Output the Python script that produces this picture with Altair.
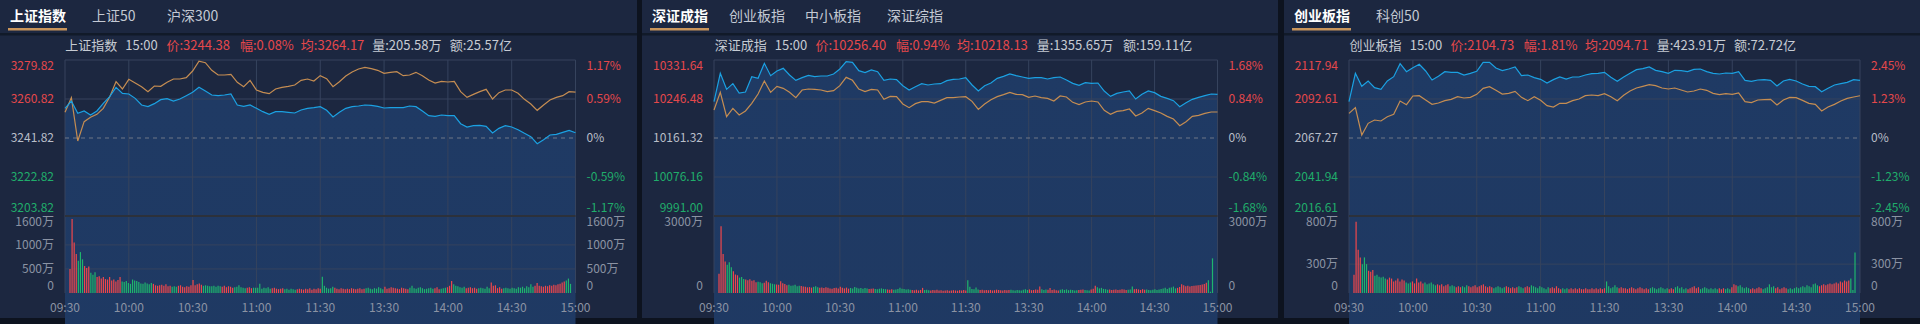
import altair as alt
import pandas as pd

# ---------------- data ----------------
SAMPLE_MINUTES = list(range(0, 241, 3))      # 09:30 .. 11:30 | 13:00 .. 15:00 (trading minutes)
VOL_MINUTES = list(range(0, 241))
TIME_TICKS = [0, 30, 60, 90, 120, 150, 180, 210, 240]
TIME_LABELS = ["09:30", "10:00", "10:30", "11:00", "11:30", "13:30", "14:00", "14:30", "15:00"]

# ---- 上证指数 ----
SH_TABS = ["上证指数", "上证50", "沪深300"]
SH_HEADER = ["上证指数", "15:00", "价:3244.38", "幅:0.08%", "均:3264.17", "量:205.58万", "额:25.57亿"]
SH_PRICE_TICKS = [3279.82, 3260.82, 3241.82, 3222.82, 3203.82]
SH_PCT_TICKS = ["1.17%", "0.59%", "0%", "-0.59%", "-1.17%"]
SH_VOL_TICKS = [1600, 1000, 500, 0]
SH_VOL_LABELS = ["1600万", "1000万", "500万", "0"]
SH_PRICE = [
    3256.27, 3259.84, 3253.84, 3254.97, 3253.02, 3254.97, 3258.71, 3261.96, 3266.50, 3263.58,
    3263.26, 3261.14, 3257.90, 3257.09, 3258.55, 3260.50, 3260.98, 3259.84, 3260.82, 3262.44,
    3264.07, 3266.50, 3264.72, 3262.77, 3262.44, 3262.77, 3263.26, 3257.90, 3257.25, 3257.90,
    3256.27, 3254.65, 3253.35, 3254.65, 3254.65, 3254.32, 3254.00, 3255.46, 3256.27, 3256.60,
    3257.09,
    3255.30, 3252.05, 3254.32, 3256.27, 3257.09, 3257.41, 3257.90, 3257.73, 3257.25, 3256.44,
    3256.60, 3256.60, 3256.60, 3257.41, 3257.09, 3254.97, 3252.70, 3252.37, 3253.02, 3252.70,
    3252.70, 3248.80, 3247.18, 3247.83, 3247.99, 3247.50, 3244.25, 3246.53, 3247.83, 3247.18,
    3245.88, 3244.09, 3242.47, 3239.06, 3241.01, 3243.28, 3243.60, 3244.58, 3245.55, 3244.38,
]
SH_AVG = [
    3254.32, 3261.47, 3240.36, 3249.78, 3251.89, 3253.35, 3256.27, 3261.79, 3269.26, 3265.69,
    3270.40, 3268.61, 3266.83, 3264.39, 3267.15, 3266.99, 3268.94, 3270.56, 3270.56, 3271.21,
    3274.46, 3279.20, 3278.52, 3274.79, 3272.51, 3272.51, 3272.84, 3268.94, 3266.83, 3269.91,
    3265.20, 3264.07, 3263.42, 3265.69, 3266.50, 3266.99, 3267.64, 3269.91, 3270.56, 3269.59,
    3272.19,
    3270.73, 3266.83, 3269.26, 3272.02, 3273.97, 3275.43, 3276.25, 3275.60, 3274.79, 3273.32,
    3273.81, 3274.13, 3272.19, 3272.51, 3273.81, 3272.19, 3270.07, 3268.61, 3269.43, 3269.10,
    3269.43, 3264.39, 3261.63, 3263.09, 3264.39, 3265.53, 3260.82, 3263.90, 3265.20, 3265.20,
    3263.58, 3260.66, 3258.38, 3255.30, 3257.90, 3260.33, 3261.63, 3262.44, 3264.39, 3264.17,
]
SH_VOL = [
    500, 1540, 1050, 810, 670, 850, 700, 560, 520, 550,
    420, 380, 430, 330, 350, 300, 330, 290, 280, 330,
    260, 280, 240, 270, 330, 240, 230, 250, 210, 190,
    280, 260, 250, 230, 200, 190, 220, 200, 180, 210,
    190, 160, 150, 160, 170, 150, 180, 140, 150, 130,
    140, 130, 150, 160, 130, 120, 140, 130, 160, 270,
    160, 180, 200, 170, 150, 160, 150, 140, 140, 150,
    130, 150, 140, 130, 150, 120, 140, 130, 110, 120,
    130, 160, 120, 110, 100, 110, 120, 100, 110, 110,
    110, 190, 90, 110, 100, 120, 90, 100, 110, 90,
    80, 90, 100, 80, 90, 70, 90, 80, 70, 80,
    90, 80, 70, 90, 80, 100, 70, 90, 80, 100,
    90, 340, 150, 110, 90, 100, 130, 110, 90, 80,
    100, 90, 80, 90, 80, 100, 90, 80, 90, 100,
    80, 90, 100, 110, 90, 80, 100, 90, 120, 100,
    80, 130, 90, 100, 120, 110, 100, 90, 80, 110,
    100, 90, 80, 110, 150, 100, 90, 110, 120, 100,
    80, 90, 100, 110, 90, 100, 120, 80, 90, 100,
    110, 120, 150, 250, 180, 150, 140, 120, 110, 130,
    100, 110, 120, 100, 110, 90, 100, 110, 100, 90,
    130, 100, 220, 150, 160, 100, 120, 90, 100, 110,
    100, 90, 110, 100, 90, 120, 110, 130, 100, 140,
    120, 180, 130, 150, 210, 150, 140, 130, 150, 140,
    160, 150, 170, 160, 180, 190, 220, 240, 260, 300,
    190,
]

# ---- 深证成指 ----
SZ_TABS = ["深证成指", "创业板指", "中小板指", "深证综指"]
SZ_HEADER = ["深证成指", "15:00", "价:10256.40", "幅:0.94%", "均:10218.13", "量:1355.65万", "额:159.11亿"]
SZ_PRICE_TICKS = [10331.64, 10246.48, 10161.32, 10076.16, 9991.00]
SZ_PCT_TICKS = ["1.68%", "0.84%", "0%", "-0.84%", "-1.68%"]
SZ_VOL_TICKS = [3000, 0]
SZ_VOL_LABELS = ["3000万", "0"]
SZ_PRICE = [
    10240.65, 10302.52, 10267.59, 10279.96, 10259.58, 10261.76, 10295.25, 10291.61, 10324.36, 10297.43,
    10307.62, 10313.44, 10298.89, 10287.24, 10293.06, 10298.16, 10295.25, 10296.70, 10296.70, 10301.07,
    10311.99, 10328.00, 10326.55, 10308.35, 10303.98, 10309.80, 10306.16, 10287.24, 10290.15, 10288.70,
    10275.59, 10266.13, 10273.41, 10279.96, 10277.05, 10279.23, 10279.96, 10286.51, 10289.42, 10290.15,
    10293.06,
    10277.05, 10263.95, 10275.59, 10281.42, 10291.61, 10295.97, 10301.07, 10297.43, 10294.52, 10291.61,
    10293.06, 10293.06, 10290.15, 10293.06, 10294.52, 10287.97, 10280.69, 10276.32, 10282.14, 10280.69,
    10281.42, 10263.95, 10252.30, 10258.85, 10261.76, 10263.95, 10246.48, 10256.67, 10263.95, 10260.31,
    10252.30, 10247.93, 10242.84, 10229.74, 10238.47, 10245.75, 10250.12, 10253.76, 10257.40, 10256.40,
]
SZ_AVG = [
    10222.46, 10261.04, 10207.90, 10226.10, 10211.54, 10220.27, 10237.01, 10257.40, 10285.78, 10261.04,
    10274.14, 10269.77, 10261.04, 10249.39, 10266.13, 10268.31, 10267.59, 10266.13, 10262.49, 10264.67,
    10275.59, 10293.79, 10287.24, 10268.31, 10262.49, 10267.59, 10266.13, 10245.75, 10252.30, 10251.57,
    10235.56, 10227.55, 10236.29, 10240.65, 10240.65, 10237.74, 10243.57, 10249.39, 10249.39, 10250.84,
    10251.57,
    10241.38, 10223.91, 10235.56, 10245.02, 10251.57, 10255.94, 10261.04, 10256.67, 10255.94, 10250.12,
    10253.03, 10249.39, 10247.93, 10242.11, 10253.03, 10250.84, 10239.20, 10234.10, 10239.93, 10242.11,
    10239.93, 10221.73, 10212.99, 10219.54, 10221.00, 10224.64, 10209.35, 10215.91, 10226.10, 10221.00,
    10215.91, 10208.63, 10202.80, 10188.25, 10196.98, 10208.63, 10210.81, 10215.18, 10218.09, 10218.13,
]
SZ_VOL = [
    750, 2600, 1520, 1230, 1100, 1200, 1000, 850, 720, 690,
    600, 620, 550, 530, 500, 540, 480, 500, 420, 440,
    420, 380, 400, 480, 420, 380, 360, 340, 330, 320,
    460, 380, 350, 300, 320, 280, 290, 320, 260, 280,
    270, 250, 240, 220, 230, 210, 240, 260, 220, 200,
    210, 190, 220, 200, 180, 170, 190, 200, 180, 240,
    200, 180, 210, 170, 190, 180, 230, 200, 180, 190,
    170, 190, 180, 160, 170, 180, 160, 150, 170, 180,
    160, 150, 140, 130, 150, 130, 140, 160, 200, 170,
    160, 140, 150, 130, 120, 110, 130, 100, 120, 200,
    120, 130, 110, 100, 120, 110, 130, 100, 110, 90,
    100, 110, 90, 100, 110, 100, 90, 110, 100, 120,
    100, 500, 240, 160, 150, 210, 140, 120, 130, 110,
    120, 110, 120, 100, 110, 130, 120, 110, 100, 120,
    110, 120, 130, 110, 100, 120, 110, 100, 130, 150,
    120, 140, 110, 120, 140, 130, 250, 150, 120, 140,
    130, 190, 120, 140, 110, 100, 130, 150, 120, 140,
    110, 130, 120, 100, 110, 120, 130, 140, 120, 110,
    100, 140, 170, 280, 220, 180, 200, 160, 150, 130,
    140, 120, 130, 140, 120, 130, 150, 140, 120, 130,
    140, 250, 150, 160, 140, 120, 150, 130, 140, 120,
    110, 130, 150, 120, 140, 160, 180, 200, 160, 200,
    210, 250, 180, 200, 230, 340, 300, 260, 280, 250,
    270, 280, 290, 300, 310, 330, 350, 400, 500, 50,
    1350,
]

# ---- 创业板指 ----
CY_TABS = ["创业板指", "科创50"]
CY_HEADER = ["创业板指", "15:00", "价:2104.73", "幅:1.81%", "均:2094.71", "量:423.91万", "额:72.72亿"]
CY_PRICE_TICKS = [2117.94, 2092.61, 2067.27, 2041.94, 2016.61]
CY_PCT_TICKS = ["2.45%", "1.23%", "0%", "-1.23%", "-2.45%"]
CY_VOL_TICKS = [800, 300, 0]
CY_VOL_LABELS = ["800万", "300万", "0"]
CY_PRICE = [
    2090.87, 2109.28, 2100.84, 2104.30, 2099.97, 2098.89, 2104.30, 2107.11, 2115.56, 2110.36,
    2112.96, 2115.20, 2110.80, 2104.95, 2107.33, 2110.36, 2109.93, 2109.93, 2108.20, 2109.28,
    2110.58, 2116.43, 2116.43, 2112.74, 2111.01, 2112.10, 2113.39, 2107.76, 2108.20, 2106.47,
    2105.38, 2103.00, 2105.17, 2106.90, 2105.60, 2106.90, 2106.90, 2108.20, 2109.06, 2109.28,
    2109.93,
    2106.68, 2104.08, 2106.90, 2109.28, 2111.66, 2112.31, 2113.39, 2111.23, 2110.36, 2109.28,
    2111.23, 2111.01, 2110.36, 2111.88, 2112.10, 2110.36, 2109.28, 2108.85, 2109.50, 2109.28,
    2110.36, 2104.73, 2104.08, 2104.95, 2105.17, 2104.73, 2101.05, 2104.30, 2105.38, 2104.30,
    2102.35, 2100.84, 2100.62, 2097.37, 2099.54, 2101.70, 2102.57, 2103.43, 2105.17, 2104.73,
]
CY_AVG = [
    2083.30, 2086.98, 2069.22, 2076.80, 2078.96, 2078.32, 2081.13, 2082.65, 2091.31, 2088.93,
    2094.56, 2094.77, 2091.96, 2089.14, 2090.01, 2091.52, 2092.39, 2094.12, 2093.26, 2093.69,
    2095.64, 2099.54, 2100.62, 2098.24, 2095.85, 2096.29, 2097.59, 2093.69, 2091.52, 2094.12,
    2091.74, 2088.28, 2087.41, 2089.79, 2089.79, 2091.52, 2092.61, 2094.77, 2095.21, 2094.77,
    2096.07,
    2094.12, 2091.52, 2094.99, 2097.80, 2099.75, 2100.84, 2101.92, 2101.27, 2099.75, 2099.10,
    2099.75, 2098.45, 2097.15, 2097.80, 2099.10, 2098.24, 2096.29, 2095.42, 2096.07, 2095.64,
    2096.50, 2090.87, 2090.22, 2091.96, 2092.17, 2092.39, 2088.71, 2091.96, 2093.69, 2093.47,
    2091.74, 2089.79, 2089.14, 2084.81, 2087.41, 2089.14, 2091.31, 2093.04, 2093.91, 2094.71,
]
CY_VOL = [
    190, 740, 450, 370, 300, 370, 300, 230, 220, 240,
    180, 190, 170, 160, 170, 150, 140, 160, 150, 120,
    130, 150, 120, 140, 130, 110, 100, 110, 120, 100,
    150, 110, 120, 100, 110, 90, 100, 110, 90, 80,
    90, 80, 90, 70, 80, 90, 70, 80, 70, 60,
    70, 60, 70, 60, 80, 70, 60, 70, 80, 60,
    70, 80, 90, 70, 60, 70, 60, 50, 60, 70,
    60, 50, 60, 70, 60, 50, 60, 50, 60, 70,
    60, 50, 60, 70, 60, 80, 70, 60, 50, 70,
    60, 50, 40, 60, 50, 60, 50, 70, 50, 40,
    50, 40, 50, 40, 50, 40, 50, 40, 50, 40,
    40, 50, 40, 40, 50, 40, 50, 40, 50, 40,
    50, 120, 70, 50, 60, 80, 60, 50, 60, 50,
    50, 40, 50, 60, 50, 40, 50, 60, 50, 40,
    50, 40, 50, 60, 50, 40, 50, 60, 50, 40,
    50, 40, 50, 40, 60, 70, 50, 60, 40, 50,
    40, 50, 60, 70, 50, 60, 40, 50, 60, 50,
    40, 50, 40, 50, 40, 50, 40, 50, 40, 50,
    40, 60, 90, 80, 70, 80, 60, 50, 60, 50,
    40, 50, 40, 50, 60, 50, 40, 50, 60, 90,
    60, 70, 50, 60, 40, 50, 60, 50, 40, 50,
    40, 50, 60, 50, 60, 70, 60, 80, 70, 60,
    90, 100, 80, 70, 80, 90, 80, 90, 100, 90,
    100, 110, 100, 120, 110, 130, 120, 130, 150, 30,
    420,
]

# ---------------- style / layout ----------------
FONT = "Noto Sans CJK SC"
BG = "#0d131f"
PANEL_BG = "#1c2740"
TAB_SEP = "#111a29"
GRID = "#36435d"
SEP = "#2c313b"
DASH = "#6f7787"
BLUE = "#1ba1e2"
ORANGE = "#c58d52"
RED = "#e5484b"
GREEN = "#20ad6b"
BAR_RED = "#f0474b"
BAR_GREEN = "#1fb56d"
LABEL_GRAY = "#b9bec8"
AXIS_GRAY = "#8b93a3"
HEAD_GRAY = "#c6cbd3"
TAB_GRAY = "#c3c9d3"
UNDERLINE = "#c9955b"
HEAD_COLORS = [HEAD_GRAY, HEAD_GRAY, RED, RED, RED, HEAD_GRAY, HEAD_GRAY]

P_TOP, P_BOT, V_TOP, V_BOT = 60, 216, 216, 293
PANEL_BOTTOM = 318

PANELS = [
    dict(px0=0, px1=637, L=65, R=575.5, tab_x=[10, 92, 167], ul=(8, 67),
         head_x=[65.3, 125.3, 166.5, 240, 300.8, 372.2, 449.8],
         tabs=SH_TABS, header=SH_HEADER, ticks=SH_PRICE_TICKS, pct=SH_PCT_TICKS,
         vticks=SH_VOL_TICKS, vlabels=SH_VOL_LABELS, price=SH_PRICE, avg=SH_AVG, vol=SH_VOL),
    dict(px0=642, px1=1278, L=714, R=1217.5, tab_x=[652, 729, 805, 887], ul=(650, 709),
         head_x=[714.7, 774.7, 815.5, 895.9, 957.1, 1036.7, 1122.9],
         tabs=SZ_TABS, header=SZ_HEADER, ticks=SZ_PRICE_TICKS, pct=SZ_PCT_TICKS,
         vticks=SZ_VOL_TICKS, vlabels=SZ_VOL_LABELS, price=SZ_PRICE, avg=SZ_AVG, vol=SZ_VOL),
    dict(px0=1284, px1=1920, L=1349, R=1860, tab_x=[1294, 1376], ul=(1292, 1351),
         head_x=[1349.4, 1409.8, 1450.6, 1523.7, 1584.9, 1656.7, 1733.9],
         tabs=CY_TABS, header=CY_HEADER, ticks=CY_PRICE_TICKS, pct=CY_PCT_TICKS,
         vticks=CY_VOL_TICKS, vlabels=CY_VOL_LABELS, price=CY_PRICE, avg=CY_AVG, vol=CY_VOL),
]


def one(**kw):
    return pd.DataFrame({k: [v] for k, v in kw.items()})


def rect(x1, x2, y1, y2, color):
    return alt.Chart(one(k=0)).mark_rect(color=color).encode(
        x=alt.value(x1), x2=alt.value(x2), y=alt.value(y1), y2=alt.value(y2))


def text(s, x, y, color, size=13, weight="normal", align="left", baseline="middle"):
    return alt.Chart(one(t=s)).mark_text(
        align=align, baseline=baseline, color=color, fontSize=size,
        fontWeight=weight, font=FONT).encode(x=alt.value(x), y=alt.value(y), text="t:N")


def directions(prices, prev_close):
    out = []
    for i in VOL_MINUTES:
        if i == 0:
            out.append("up" if prices[0] >= prev_close else "down")
        else:
            k = (i - 1) // 3
            out.append("up" if prices[k + 1] >= prices[k] else "down")
    return out


def panel_layers(c):
    L, R = c["L"], c["R"]
    ticks = c["ticks"]
    base = ticks[2]
    xs = alt.Scale(domain=[0, 240], range=[L, R], nice=False, zero=False)
    ys = alt.Scale(domain=[ticks[-1], ticks[0]], range=[P_BOT, P_TOP], nice=False, zero=False)
    vs = alt.Scale(domain=[0, c["vticks"][0]], range=[V_BOT, V_TOP], nice=False, zero=False)

    def X(f):
        return alt.X(f, type="quantitative", scale=xs, axis=None)

    def Y(f):
        return alt.Y(f, type="quantitative", scale=ys, axis=None)

    def V(f):
        return alt.Y(f, type="quantitative", scale=vs, axis=None)

    out = []
    # panel background and tab bar
    out.append(rect(c["px0"], c["px1"], 0, PANEL_BOTTOM, PANEL_BG))
    out.append(rect(c["px0"], c["px1"], 33, 35.5, TAB_SEP))
    for i, (t, tx) in enumerate(zip(c["tabs"], c["tab_x"])):
        out.append(text(t, tx, 17, "#ffffff" if i == 0 else TAB_GRAY, size=14,
                        weight="bold" if i == 0 else "normal"))
    out.append(rect(c["ul"][0], c["ul"][1], 28, 30.5, UNDERLINE))
    # header line
    for t, hx, col in zip(c["header"], c["head_x"], HEAD_COLORS):
        out.append(text(t, hx, 46, col, size=13))

    lines = pd.DataFrame({"m": SAMPLE_MINUTES, "price": c["price"], "avg": c["avg"]})
    grad = alt.Gradient(gradient="linear",
                        stops=[alt.GradientStop(color="#1f3a64", offset=0),
                               alt.GradientStop(color="#1e3258", offset=0.5),
                               alt.GradientStop(color="#1c2a46", offset=1)],
                        x1=1, x2=1, y1=0, y2=1)
    out.append(alt.Chart(lines).mark_area(color=grad).encode(
        x=X("m"), y=Y("price"), y2=alt.value(P_BOT)))

    # vertical grid
    tdf = pd.DataFrame({"m": TIME_TICKS, "lab": TIME_LABELS})
    out.append(alt.Chart(tdf).mark_rule(color=GRID, strokeWidth=1).encode(
        x=X("m"), y=alt.value(P_TOP), y2=alt.value(V_BOT)))
    # horizontal price grid
    pg = pd.DataFrame({"v": [ticks[0], ticks[1], ticks[3]]})
    out.append(alt.Chart(pg).mark_rule(color=GRID, strokeWidth=1).encode(
        y=Y("v"), x=alt.value(L), x2=alt.value(R)))
    out.append(alt.Chart(one(v=base)).mark_rule(color=DASH, strokeWidth=1, strokeDash=[4, 4]).encode(
        y=Y("v"), x=alt.value(L), x2=alt.value(R)))
    out.append(alt.Chart(one(v=ticks[-1])).mark_rule(color=SEP, strokeWidth=2).encode(
        y=Y("v"), x=alt.value(L), x2=alt.value(R)))
    # volume grid
    mid_v = c["vticks"][1:-1]
    if mid_v:
        out.append(alt.Chart(pd.DataFrame({"v": mid_v})).mark_rule(color=GRID, strokeWidth=1).encode(
            y=V("v"), x=alt.value(L), x2=alt.value(R)))

    # volume bars
    vdf = pd.DataFrame({"m": VOL_MINUTES, "vol": c["vol"],
                        "dir": directions(c["price"], base)})
    for d, col in (("up", BAR_RED), ("down", BAR_GREEN)):
        sub = vdf[vdf["dir"] == d]
        out.append(alt.Chart(sub).mark_bar(color=col, size=1.2).encode(
            x=X("m"), y=V("vol"), y2=alt.value(V_BOT)))

    # lines
    out.append(alt.Chart(lines).mark_line(color=ORANGE, strokeWidth=1.2).encode(x=X("m"), y=Y("avg")))
    out.append(alt.Chart(lines).mark_line(color=BLUE, strokeWidth=1.2).encode(x=X("m"), y=Y("price")))

    # price axis labels (left prices, right percentages)
    cols = [RED, RED, LABEL_GRAY, GREEN, GREEN]
    labs = [f"{v:.2f}" for v in ticks]
    for i, v in enumerate(ticks):
        if i == 0:
            bl, dy = "top", 1
        elif i == len(ticks) - 1:
            bl, dy = "bottom", -1
        else:
            bl, dy = "middle", 0
        df = pd.DataFrame({"v": [v], "lab": [labs[i]], "pct": [c["pct"][i]]})
        out.append(alt.Chart(df).mark_text(align="right", baseline=bl, dy=dy, color=cols[i],
                                           fontSize=12, font=FONT).encode(
            x=alt.value(L - 11), y=Y("v"), text="lab:N"))
        out.append(alt.Chart(df).mark_text(align="left", baseline=bl, dy=dy, color=cols[i],
                                           fontSize=12, font=FONT).encode(
            x=alt.value(R + 11), y=Y("v"), text="pct:N"))
    # volume labels
    vt = c["vticks"]
    for i, v in enumerate(vt):
        if i == 0:
            bl, dy = "top", 1
        elif i == len(vt) - 1:
            bl, dy = "bottom", 0
        else:
            bl, dy = "middle", 0
        df = pd.DataFrame({"v": [v], "lab": [c["vlabels"][i]]})
        out.append(alt.Chart(df).mark_text(align="right", baseline=bl, dy=dy, color=AXIS_GRAY,
                                           fontSize=12, font=FONT).encode(
            x=alt.value(L - 11), y=V("v"), text="lab:N"))
        out.append(alt.Chart(df).mark_text(align="left", baseline=bl, dy=dy, color=AXIS_GRAY,
                                           fontSize=12, font=FONT).encode(
            x=alt.value(R + 11), y=V("v"), text="lab:N"))
    # time labels
    out.append(alt.Chart(tdf).mark_text(align="center", baseline="middle", color=AXIS_GRAY,
                                        fontSize=12, font=FONT).encode(
        x=X("m"), y=alt.value(308), text="lab:N"))
    return out


layers = []
for cfg in PANELS:
    layers.extend(panel_layers(cfg))

chart = alt.layer(*layers).resolve_scale(
    x="independent", y="independent"
).properties(
    width=1920, height=324, padding=0, background=BG,
    autosize=alt.AutoSizeParams(type="none"),
).configure_view(stroke=None)

chart.save("out.html", embed_options={"renderer": "svg", "actions": False})
